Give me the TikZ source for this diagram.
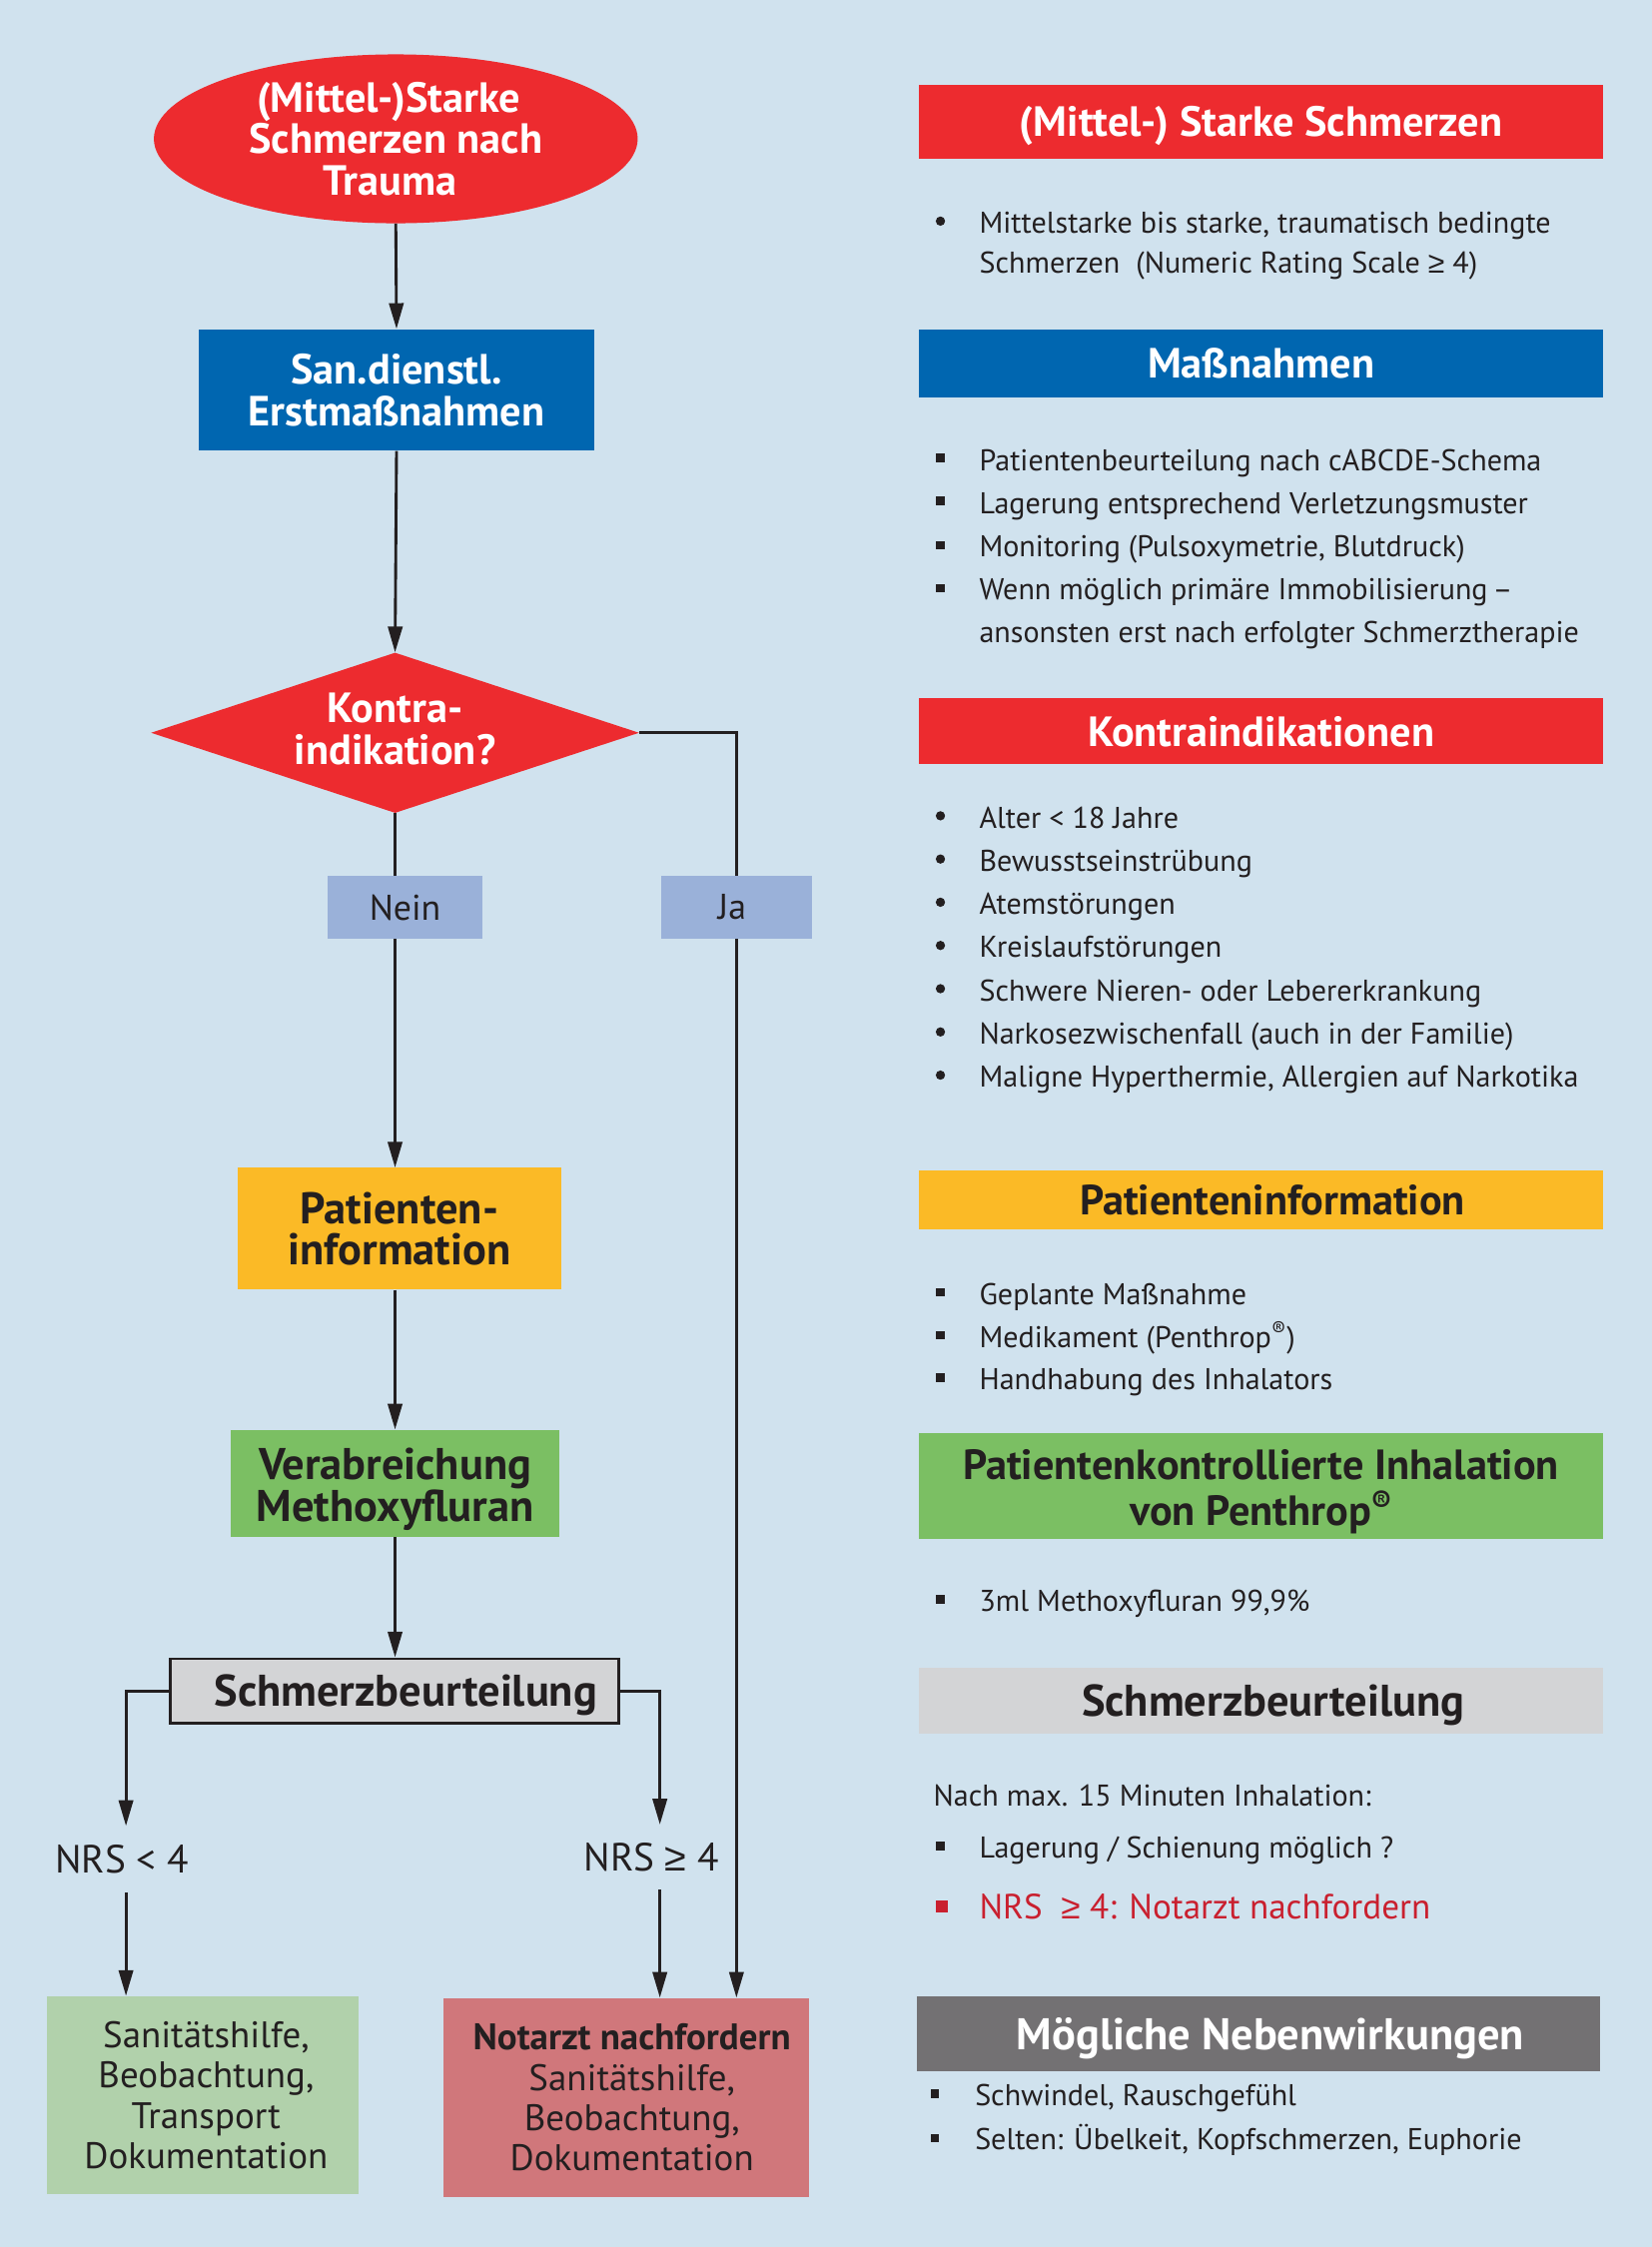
\documentclass[tikz,border=0pt]{standalone}
\usepackage{fontspec}
\setmainfont{PT Sans}
\newfontfamily\symfont{Liberation Sans}
\newcommand\mygeq{{\symfont ≥}}
\usetikzlibrary{shapes.geometric,arrows.meta,calc}
\definecolor{bg}{HTML}{D0E2EE}
\definecolor{fred}{HTML}{ED2B2F}
\definecolor{fblue}{HTML}{0066B0}
\definecolor{fyellow}{HTML}{FBBA26}
\definecolor{fgreen}{HTML}{7BBF63}
\definecolor{flabel}{HTML}{9AB1D9}
\definecolor{fgray}{HTML}{D3D4D6}
\definecolor{fdgray}{HTML}{737173}
\definecolor{flgreen}{HTML}{B1D1AB}
\definecolor{fpink}{HTML}{D0777B}
\definecolor{tdark}{HTML}{231F20}
\definecolor{tred}{HTML}{C9202F}
\newcommand\myfs[2]{\fontsize{#1}{#2}\selectfont}
\begin{document}
\begin{tikzpicture}[x=1pt,y=-1pt,
  flowtext/.style={font=\myfs{29.5}{29}\bfseries, align=center, inner sep=0pt},
  darktext/.style={font=\myfs{31}{29}\bfseries, align=center, inner sep=0pt},
  onelineA/.style={text height=26.5pt, text depth=6pt},
  onelineB/.style={text height=28pt, text depth=6.3pt},
  fbox/.style={rectangle, inner sep=0pt, align=center},
  conn/.style={draw=tdark, line width=2pt},
  arr/.style={conn, -{Triangle[length=18pt,width=10pt]}},
  hdr/.style={rectangle, minimum width=478pt, inner sep=0pt, align=center, font=\myfs{29.5}{32}\bfseries},
  hdrbig/.style={hdr, font=\myfs{31}{32}\bfseries},
  body/.style={anchor=base west, inner sep=0pt, font=\myfs{21}{25}, text=tdark},
  sqb/.style={rectangle, fill=tdark, minimum size=6pt, inner sep=0pt},
  rdb/.style={circle, fill=tdark, minimum size=6.5pt, inner sep=0pt},
  btext/.style={font=\myfs{25.8}{28}, align=center, inner sep=0pt, text=tdark}
]
\fill[bg] (0,0) rectangle (1154,1570);
\useasboundingbox (0,0) rectangle (1154,1570);

% ---------------- flowchart ----------------
\node[ellipse, fill=fred, minimum width=338pt, minimum height=118pt, text=white, flowtext] (start) at (276.5,97) {(Mittel-)Starke\hspace*{10pt}\\Schmerzen nach\hspace*{10pt}\\Trauma\hspace*{8pt}};
\node[fbox, fill=fblue, minimum width=276pt, minimum height=85pt, text=white, flowtext] (san) at (277,272.5) {San.dienstl.\\Erstmaßnahmen};
\node[diamond, aspect=3.04, fill=fred, minimum width=341pt, minimum height=112pt, text=white, flowtext] (ki) at (276,512) {Kontra-\\indikation?\rule[-6pt]{0pt}{6pt}};
\node[fbox, fill=flabel, minimum width=108pt, minimum height=44pt, font=\myfs{25}{26}, text=tdark] (nein) at (283,634) {Nein};
\node[fbox, fill=flabel, minimum width=105pt, minimum height=44pt, font=\myfs{25}{26}, text=tdark] (ja) at (514.5,634) {Ja\hspace*{6pt}};
\node[fbox, fill=fyellow, minimum width=226pt, minimum height=85pt, text=tdark, darktext] (pinfo) at (279,858.5) {Patienten-\\information};
\node[fbox, fill=fgreen, minimum width=230pt, minimum height=75pt, text=tdark, darktext] (verab) at (276,1036.5) {\rule{0pt}{30pt}Verabreichung\\Methoxyfluran};
\node[fbox, fill=fgray, draw=tdark, line width=2pt, minimum width=313pt, minimum height=45pt, text=tdark, darktext, onelineB] (sb) at (275.5,1181.5) {\hspace*{16pt}Schmerzbeurteilung};
\node[fbox, minimum height=46pt, font=\myfs{27.5}{28}, text=tdark] (nrsl) at (88,1299) {NRS < 4\hspace*{6pt}};
\node[fbox, minimum height=45pt, font=\myfs{27.5}{28}, text=tdark] (nrsr) at (461,1297.5) {NRS \mygeq{} 4\hspace*{12pt}};
\node[fbox, fill=flgreen, minimum width=217.5pt, minimum height=138.5pt, btext] (sani) at (141.5,1464) {\hspace*{5pt}Sanitätshilfe,\\\hspace*{5pt}Beobachtung,\\\hspace*{5pt}Transport\\\hspace*{5pt}Dokumentation};
\node[fbox, fill=fpink, minimum width=255pt, minimum height=139pt, btext] (notarzt) at (437.5,1465.5) {\hspace*{8pt}\textbf{Notarzt nachfordern}\\\hspace*{8pt}Sanitätshilfe,\\\hspace*{8pt}Beobachtung,\\\hspace*{8pt}Dokumentation};

\draw[arr] (start.south) -- (san.north);
\draw[arr] (san.south) -- (ki.north);
\draw[conn] (ki.south) -- (ki.south |- nein.north);
\draw[arr] (ki.south |- nein.south) -- (ki.south |- pinfo.north);
\draw[arr] (verab.north |- pinfo.south) -- (verab.north);
\draw[arr] (verab.south) -- (verab.south |- sb.north);
\draw[conn] (ki.east) -| (ja.north);
\draw[arr] (ja.south) -- (ja.south |- notarzt.north);
\draw[arr] (sb.west) -| (nrsl.north);
\draw[arr] (nrsl.south) -- (nrsl.south |- sani.north);
\draw[arr] (sb.east) -| (nrsr.north);
\draw[arr] (nrsr.south) -- (nrsr.south |- notarzt.north);

% ---------------- right panel ----------------
\node[hdr, onelineA, fill=fred, minimum height=52pt, text=white] (h1) at (881,85) {(Mittel-) Starke Schmerzen};
\node[rdb] (b1a) at (657,154.5) {};
\node[body] (t1a) at (684,163) {Mittelstarke bis starke, traumatisch bedingte};
\node[body] (t1b) at (684,191) {Schmerzen\ \ (Numeric Rating Scale \mygeq{} 4)};

\node[hdr, onelineA, fill=fblue, minimum height=48pt, text=white] (h2) at (881,254) {Maßnahmen};
\node[sqb] (b2a) at (657,320) {};
\node[sqb] (b2b) at (657,350) {};
\node[sqb] (b2c) at (657,381) {};
\node[sqb] (b2d) at (657,411) {};
\node[body] (t2a) at (684,329) {Patientenbeurteilung nach cABCDE-Schema};
\node[body] (t2b) at (684,359) {Lagerung entsprechend Verletzungsmuster};
\node[body] (t2c) at (684,389) {Monitoring (Pulsoxymetrie, Blutdruck)};
\node[body] (t2d) at (684,419) {Wenn möglich primäre Immobilisierung\,–};
\node[body] (t2e) at (684,449) {ansonsten erst nach erfolgter Schmerztherapie};

\node[hdr, onelineA, fill=fred, minimum height=46pt, text=white] (h3) at (881,511) {Kontraindikationen};
\node[rdb] (b3a) at (657,570) {};
\node[rdb] (b3b) at (657,600.2) {};
\node[rdb] (b3c) at (657,630.4) {};
\node[rdb] (b3d) at (657,660.6) {};
\node[rdb] (b3e) at (657,690.8) {};
\node[rdb] (b3f) at (657,721) {};
\node[rdb] (b3g) at (657,751.2) {};
\node[body] (t3a) at (684,578.5) {Alter < 18 Jahre};
\node[body] (t3b) at (684,608.7) {Bewusstseinstrübung};
\node[body] (t3c) at (684,638.9) {Atemstörungen};
\node[body] (t3d) at (684,669.1) {Kreislaufstörungen};
\node[body] (t3e) at (684,699.3) {Schwere Nieren- oder Lebererkrankung};
\node[body] (t3f) at (684,729.5) {Narkosezwischenfall (auch in der Familie)};
\node[body] (t3g) at (684,759.7) {Maligne Hyperthermie, Allergien auf Narkotika};

\node[hdr, onelineA, fill=fyellow, minimum height=41pt, text=tdark] (h4) at (881,838.5) {\hspace*{16pt}Patienteninformation};
\node[sqb] (b4a) at (657,903) {};
\node[sqb] (b4b) at (657,933) {};
\node[sqb] (b4c) at (657,962.5) {};
\node[body] (t4a) at (684,911.7) {Geplante Maßnahme};
\node[body] (t4b) at (684,941.4) {Medikament (Penthrop\textsuperscript{®})};
\node[body] (t4c) at (684,971) {Handhabung des Inhalators};

\node[hdr, fill=fgreen, minimum height=74pt, text=tdark] (h5) at (881,1038) {\rule{0pt}{29pt}Patientenkontrollierte Inhalation\\von Penthrop\textsuperscript{®}};
\node[sqb] (b5a) at (657,1117.5) {};
\node[body] (t5a) at (684,1126) {3ml Methoxyfluran 99,9\%};

\node[hdrbig, onelineB, fill=fgray, minimum height=46pt, text=tdark] (h6) at (881,1188) {\hspace*{17pt}Schmerzbeurteilung};
\node[body] (t6a) at (652,1262) {Nach max. 15 Minuten Inhalation:};
\node[sqb] (b6b) at (657,1290) {};
\node[body] (t6b) at (684,1298) {Lagerung / Schienung möglich ?};
\node[rectangle, fill=tred, minimum size=8pt, inner sep=0pt] (b6c) at (658,1332) {};
\node[body, text=tred, font=\myfs{24.5}{28}] (t6c) at (684,1341) {NRS\ \ \mygeq{} 4: Notarzt nachfordern};

\node[hdrbig, onelineB, fill=fdgray, minimum width=477pt, minimum height=53pt, text=white] (h7) at (879,1421) {\hspace*{17pt}Mögliche Nebenwirkungen};
\node[sqb] (b7a) at (653,1463) {};
\node[sqb] (b7b) at (653,1494) {};
\node[body] (t7a) at (681,1471) {Schwindel, Rauschgefühl};
\node[body] (t7b) at (681,1502) {Selten: Übelkeit, Kopfschmerzen, Euphorie};
\end{tikzpicture}
\end{document}
